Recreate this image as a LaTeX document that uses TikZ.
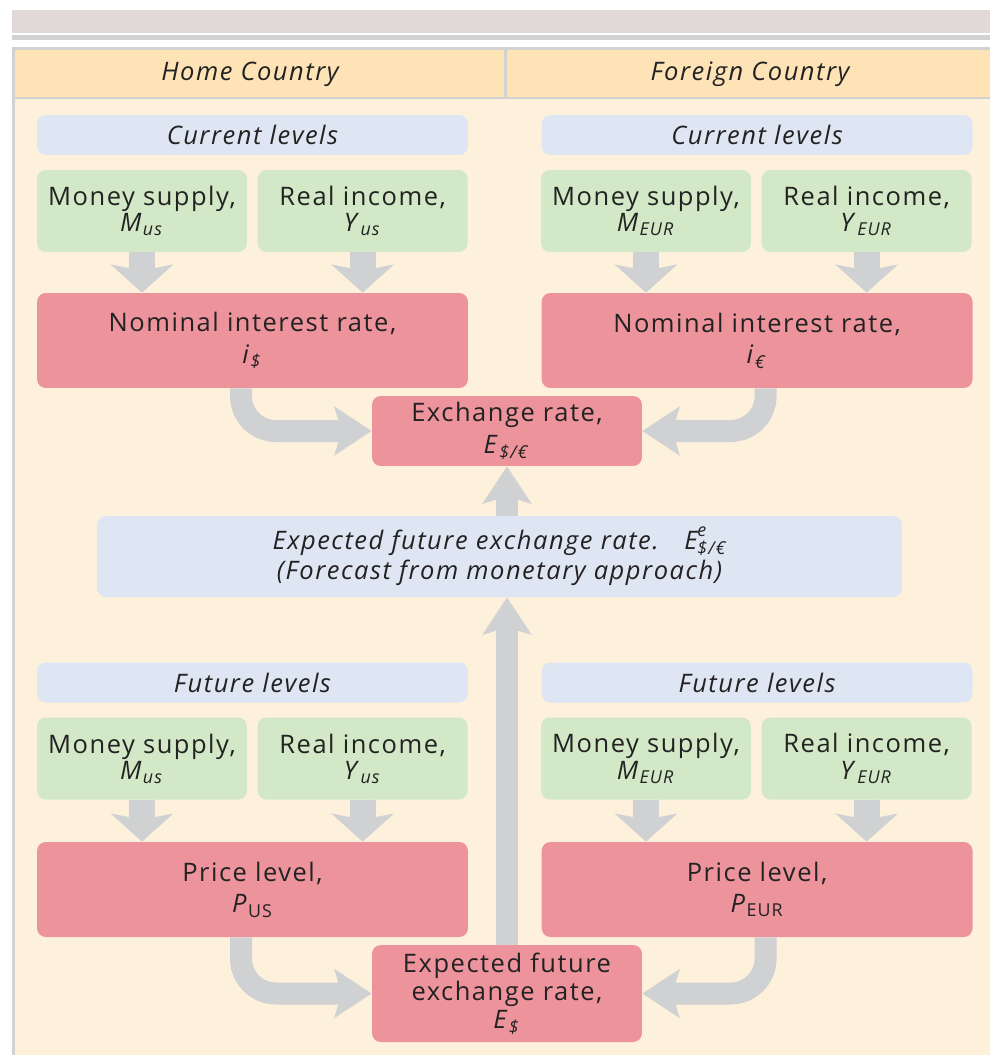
\documentclass[tikz,border=0pt]{standalone}
\usepackage{fontspec}
\setmainfont{Open Sans}[LetterSpace=6]
\usetikzlibrary{positioning}
\usetikzlibrary{calc}
\usetikzlibrary{arrows.meta}
\definecolor{bandgray}{HTML}{E0D9D7}
\definecolor{rulegray}{HTML}{D2D2D2}
\definecolor{headorange}{HTML}{FDE3B6}
\definecolor{cream}{HTML}{FDF1DC}
\definecolor{boxblue}{HTML}{DFE6F3}
\definecolor{boxgreen}{HTML}{D3E8C6}
\definecolor{boxred}{HTML}{EC939B}
\definecolor{flowgray}{HTML}{CFD1D3}
\definecolor{txt}{HTML}{222222}
\newcommand{\vsub}[2]{\textit{#1}\textsubscript{\textit{#2}}}
\newcommand{\vsupsub}[3]{\textit{#1}\rlap{\raisebox{0.15em}{\textsuperscript{\textit{#2}}}}\textsubscript{\textit{#3}}}
\tikzstyle{box} = [rectangle, rounded corners=5pt, inner sep=0pt, align=center,
  text=txt, font=\fontsize{14.5}{18}\selectfont]
\tikzstyle{levels} = [box, fill=boxblue, minimum width=8.62cm, minimum height=0.8cm,
  font=\fontsize{14.5}{18}\selectfont\itshape]
\tikzstyle{source} = [box, fill=boxgreen, minimum width=4.2cm, minimum height=1.64cm,
  font=\fontsize{14.5}{15}\selectfont]
\tikzstyle{result} = [box, fill=boxred, minimum width=8.62cm, minimum height=1.9cm]
\tikzstyle{drop} = [draw=flowgray, line width=0.52cm,
  -{Stealth[inset=0.12cm, width=1.24cm, length=0.56cm]}]
\tikzstyle{flow} = [draw=flowgray, line width=0.44cm, rounded corners=0.7cm,
  -{Stealth[inset=0.14cm, width=0.96cm, length=0.74cm]}]

\begin{document}
\begin{tikzpicture}[x=0.02cm, y=-0.02cm]
  \useasboundingbox (0,0) rectangle (990,1055);
  % frame and header row
  \fill[bandgray] (12,10) rectangle (990,33);
  \fill[rulegray] (12,35) rectangle (990,40);
  \fill[cream] (12,47) rectangle (990,1055);
  \fill[headorange] (15,50) rectangle (990,97);
  \fill[rulegray] (12,47) rectangle (990,50);
  \fill[rulegray] (12,47) rectangle (15,1055);
  \fill[rulegray] (15,97) rectangle (990,99);
  \fill[rulegray] (504,50) rectangle (507,97);
  \node[font=\fontsize{14.5}{18}\selectfont\itshape, text=txt] (home) at (250,74) {Home Country};
  \node[font=\fontsize{14.5}{18}\selectfont\itshape, text=txt] (foreign) at (750,74) {Foreign Country};

  % current levels
  \node[levels] (curL) at (252.5,135) {Current levels};
  \node[levels, right = 1.46cm of curL] (curR) {Current levels};
  \node[source] (nowMus) at (142,211) {Money supply,\\ \vsub{M}{us}};
  \node[source, right = 0.2cm of nowMus] (nowYus) {Real income,\\ \vsub{Y}{us}};
  \node[source] (nowMeur) at (646,211) {Money supply,\\ \vsub{M}{EUR}};
  \node[source, right = 0.2cm of nowMeur] (nowYeur) {Real income,\\ \vsub{Y}{EUR}};
  \node[result] (rateL) at (252.5,340.5) {Nominal interest rate,\\ \vsub{i}{\$}};
  \node[result, right = 1.46cm of rateL] (rateR) {Nominal interest rate,\\ \vsub{i}{€}};
  \node[box, fill=boxred, minimum width=5.4cm, minimum height=1.4cm] (exch) at (507,431)
    {Exchange rate,\\ \vsub{E}{\$/€}};

  % forecast
  \node[box, fill=boxblue, minimum width=16.1cm, minimum height=1.62cm,
    font=\fontsize{14.5}{17}\selectfont\itshape] (fcst) at (499.5,556.5)
    {Expected future exchange rate.\quad \vsupsub{E}{e}{\$/€}\\
     (Forecast from monetary approach)};

  % future levels
  \node[levels] (futL) at (252.5,682.5) {Future levels};
  \node[levels, right = 1.46cm of futL] (futR) {Future levels};
  \node[source] (futMus) at (142,758.5) {Money supply,\\ \vsub{M}{us}};
  \node[source, right = 0.2cm of futMus] (futYus) {Real income,\\ \vsub{Y}{us}};
  \node[source] (futMeur) at (646,758.5) {Money supply,\\ \vsub{M}{EUR}};
  \node[source, right = 0.2cm of futMeur] (futYeur) {Real income,\\ \vsub{Y}{EUR}};
  \node[result] (priceL) at (252.5,889.5) {Price level,\\ \textit{P}\textsubscript{US}};
  \node[result, right = 1.46cm of priceL] (priceR) {Price level,\\ \textit{P}\textsubscript{EUR}};
  \node[box, fill=boxred, minimum width=5.4cm, minimum height=1.94cm,
    font=\fontsize{14.5}{16}\selectfont] (expF) at (507,993.5)
    {Expected future\\ exchange rate,\\ \vsub{E}{\$}};

  % short drops into the red boxes
  \foreach \a/\b in {nowMus/rateL, nowYus/rateL, nowMeur/rateR, nowYeur/rateR,
                     futMus/priceL, futYus/priceL, futMeur/priceR, futYeur/priceR}
    \draw[drop] (\a.south) -- (\a.south |- \b.north);

  % bends into the centre boxes
  \draw[flow] ($(rateL.south)+(-11.5,0)$) |- (exch.west);
  \draw[flow] ($(rateR.south)+(8.5,0)$) |- (exch.east);
  \draw[flow] ($(priceL.south)+(-11.5,0)$) |- (expF.west);
  \draw[flow] ($(priceR.south)+(8.5,0)$) |- (expF.east);

  % upward chain
  \draw[flow] (expF.north) -- (expF.north |- fcst.south);
  \draw[flow] (expF.north |- fcst.north) -- (exch.south);
\end{tikzpicture}
\end{document}
